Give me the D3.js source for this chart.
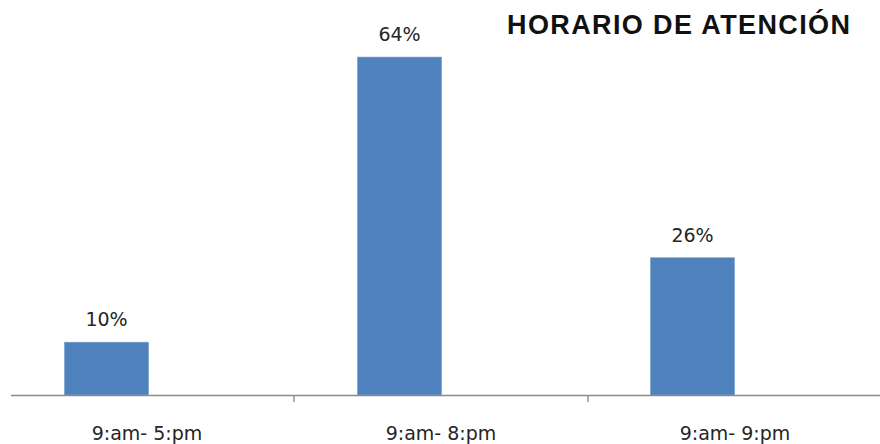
<!DOCTYPE html>
<html>
<head>
<meta charset="utf-8">
<script src="https://cdn.jsdelivr.net/npm/d3@7"></script>
<style>
  html, body { margin: 0; padding: 0; background: #fff; }
  svg { display: block; }
</style>
</head>
<body>
<svg id="chart" width="880" height="444"></svg>
<script>
// Horario de atención: share of responses per opening schedule
const categories = ["9:am- 5:pm", "9:am- 8:pm", "9:am- 9:pm"];
const values = [10, 64, 26];
const valueLabels = ["10%", "64%", "26%"];
const title = "HORARIO DE ATENCIÓN";

const W = 880, H = 444;
const baseline = 395;
const svg = d3.select("#chart");

// Category bands for the axis (labels and ticks)
const xAxisScale = d3.scaleBand().domain(categories).range([0, 882]);
// Bands used to place the columns
const xBars = d3.scaleBand().domain(categories).range([-40, 839]);
const barWidth = xBars.bandwidth() * 0.287;

const y = d3.scaleLinear().domain([0, 70]).range([baseline, baseline - 369.6]);

// Columns
svg.append("g").selectAll("rect")
  .data(values)
  .join("rect")
  .attr("x", (d, i) => xBars(categories[i]) + (xBars.bandwidth() - barWidth) / 2)
  .attr("y", d => y(d))
  .attr("width", barWidth)
  .attr("height", d => y(0) - y(d))
  .attr("fill", "#4F81BD")
  .attr("stroke", "#7A9FCF")
  .attr("stroke-width", 0.6);

// Value labels above each column
svg.append("g").selectAll("text")
  .data(values)
  .join("text")
  .attr("x", (d, i) => xBars(categories[i]) + xBars.bandwidth() / 2)
  .attr("y", d => y(d) - 16)
  .attr("text-anchor", "middle")
  .attr("font-family", "DejaVu Sans, Verdana, sans-serif")
  .attr("font-size", 19)
  .attr("fill", "#262626")
  .text((d, i) => valueLabels[i]);

// Category axis
const axisG = svg.append("g");
axisG.append("line")
  .attr("x1", 11).attr("x2", W)
  .attr("y1", baseline + 0.5).attr("y2", baseline + 0.5)
  .attr("stroke", "#8c8c8c")
  .attr("stroke-width", 1.6);

const boundaries = categories.slice(1).map(c => xAxisScale(c));
axisG.selectAll("line.tick")
  .data(boundaries)
  .join("line")
  .attr("class", "tick")
  .attr("x1", d => d).attr("x2", d => d)
  .attr("y1", baseline).attr("y2", baseline + 7)
  .attr("stroke", "#8c8c8c")
  .attr("stroke-width", 1.4);

axisG.selectAll("text")
  .data(categories)
  .join("text")
  .attr("x", d => xAxisScale(d) + xAxisScale.bandwidth() / 2)
  .attr("y", 440)
  .attr("text-anchor", "middle")
  .attr("font-family", "DejaVu Sans, Verdana, sans-serif")
  .attr("font-size", 19)
  .attr("fill", "#262626")
  .text(d => d);

// Title
svg.append("text")
  .attr("x", 507)
  .attr("y", 34)
  .attr("font-family", "Liberation Sans, Arial, sans-serif")
  .attr("font-weight", "bold")
  .attr("font-size", 27)
  .attr("textLength", 343)
  .attr("lengthAdjust", "spacing")
  .attr("fill", "#111")
  .text(title);
</script>
</body>
</html>
